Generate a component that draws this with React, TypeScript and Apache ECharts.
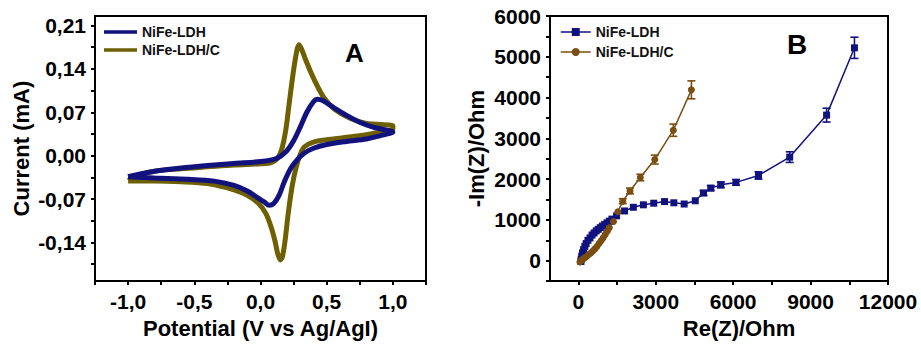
import React, { useEffect, useRef } from "react";
import * as echarts from "echarts";

// ---------- Panel A: cyclic voltammograms (Potential V, Current mA) ----------
const cvLDH: [number, number][] = [
  [-1.0, -0.034], [-0.9, -0.029], [-0.8, -0.025], [-0.6, -0.02], [-0.4, -0.016], [-0.2, -0.0125],
  [0.0, -0.0095], [0.1, -0.006], [0.15, -0.001], [0.2, 0.008], [0.25, 0.024], [0.3, 0.046],
  [0.35, 0.07], [0.4, 0.087], [0.43, 0.091], [0.47, 0.089], [0.55, 0.078], [0.65, 0.065],
  [0.75, 0.054], [0.85, 0.046], [1.0, 0.038],
  [0.9, 0.032], [0.8, 0.027], [0.65, 0.023], [0.5, 0.018], [0.4, 0.012], [0.33, 0.004],
  [0.28, -0.006], [0.23, -0.02], [0.18, -0.042], [0.14, -0.064], [0.1, -0.077], [0.065, -0.08],
  [0.03, -0.075], [-0.02, -0.068], [-0.1, -0.057], [-0.2, -0.048], [-0.35, -0.041],
  [-0.55, -0.038], [-0.8, -0.036], [-1.0, -0.034],
];
const cvLDHC: [number, number][] = [
  [-1.0, -0.04], [-0.9, -0.03], [-0.8, -0.025], [-0.6, -0.021], [-0.4, -0.018], [-0.2, -0.015],
  [0.0, -0.013], [0.08, -0.011], [0.13, -0.004], [0.16, 0.01], [0.19, 0.04], [0.22, 0.09],
  [0.25, 0.138], [0.275, 0.17], [0.29, 0.179], [0.31, 0.172], [0.34, 0.155], [0.4, 0.125],
  [0.48, 0.093], [0.56, 0.075], [0.68, 0.06], [0.8, 0.052], [1.0, 0.048],
  [1.0, 0.043], [0.85, 0.036], [0.7, 0.031], [0.55, 0.027], [0.4, 0.022], [0.33, 0.014],
  [0.3, 0.002], [0.27, -0.018], [0.24, -0.048], [0.21, -0.092], [0.185, -0.138], [0.165, -0.163],
  [0.15, -0.168], [0.13, -0.158], [0.11, -0.138], [0.08, -0.115], [0.04, -0.093], [-0.02, -0.076],
  [-0.1, -0.064], [-0.2, -0.055], [-0.4, -0.045], [-0.6, -0.042], [-0.8, -0.041], [-1.0, -0.041],
];
const cvXTicks = [-1.25, -1.0, -0.75, -0.5, -0.25, 0, 0.25, 0.5, 0.75, 1.0, 1.25];
const cvXLabels = [-1.0, -0.5, 0, 0.5, 1.0];
const cvYTicks = [-0.175, -0.14, -0.105, -0.07, -0.035, 0, 0.035, 0.07, 0.105, 0.14, 0.175, 0.21];
const cvYLabels = [-0.14, -0.07, 0, 0.07, 0.14, 0.21];

// ---------- Panel B: Nyquist plots (Re(Z), -Im(Z), Ohm) ----------
const eisLDH: [number, number][] = [
  [100, -20], [110, 40], [130, 110], [160, 190], [200, 270], [250, 350], [300, 420], [370, 500],
  [450, 560], [530, 630], [610, 680], [690, 730], [770, 770], [850, 810], [930, 850], [1020, 890],
  [1110, 930], [1200, 970], [1300, 1020], [1480, 1100], [1790, 1220], [2130, 1310], [2520, 1370],
  [2920, 1410], [3340, 1450], [3700, 1420], [4100, 1390], [4530, 1470], [4850, 1660], [5130, 1780],
  [5520, 1860], [6110, 1920], [6980, 2090], [8190, 2540], [9620, 3570], [10700, 5220],
];
const eisLDHC: [number, number][] = [
  [60, -30], [100, 0], [150, 30], [200, 50], [260, 80], [330, 110], [400, 150], [480, 190],
  [560, 240], [640, 290], [720, 350], [800, 420], [880, 490], [960, 560], [1040, 640], [1120, 720],
  [1200, 810], [1360, 960], [1530, 1200], [1720, 1460], [2000, 1710], [2400, 2040], [2960, 2480],
  [3680, 3200], [4380, 4190],
];
const errLDH: [number, number, number][] = [
  [10700, 5220, 260], [9620, 3570, 170], [8190, 2540, 130], [6980, 2090, 90], [6110, 1920, 70],
  [5520, 1860, 70], [5130, 1780, 60], [4850, 1660, 60],
];
const errLDHC: [number, number, number][] = [
  [4380, 4190, 220], [3680, 3200, 150], [2960, 2480, 110], [2400, 2040, 80], [2000, 1710, 70],
  [1720, 1460, 60],
];
const eisXTicks = [0, 1500, 3000, 4500, 6000, 7500, 9000, 10500, 12000];
const eisXLabels = [0, 3000, 6000, 9000, 12000];

const NAMES = ["NiFe-LDH", "NiFe-LDH/C"];
const BLUE = "#12127f";
const OLIVE = "#6e5f00";
const BROWN = "#7a4d10";
const FONT = "'Liberation Sans', Arial, Helvetica, sans-serif";

const axisCommon = (gridIndex: number) => ({
  gridIndex,
  type: "value" as const,
  axisLine: { show: true, onZero: false, lineStyle: { color: "#000", width: 2 } },
  axisTick: { show: true, inside: false, length: 4, lineStyle: { color: "#000", width: 2 } },
  splitLine: { show: false },
  nameLocation: "middle" as const,
  nameTextStyle: { fontFamily: FONT, fontSize: 22, fontWeight: "bold" as const, color: "#000" },
});
const labelCommon = {
  fontFamily: FONT,
  fontSize: 21,
  fontWeight: "bold" as const,
  color: "#000",
  showMinLabel: true,
  showMaxLabel: true,
};

const errRender = (color: string) => (params: any, api: any) => {
  const x = api.value(0);
  const y = api.value(1);
  const e = api.value(2);
  const top = api.coord([x, y + e]);
  const bot = api.coord([x, y - e]);
  const style = { stroke: color, lineWidth: 1.6 };
  return {
    type: "group",
    children: [
      { type: "line", shape: { x1: top[0], y1: top[1], x2: bot[0], y2: bot[1] }, style },
      { type: "line", shape: { x1: top[0] - 4, y1: top[1], x2: top[0] + 4, y2: top[1] }, style },
      { type: "line", shape: { x1: bot[0] - 4, y1: bot[1], x2: bot[0] + 4, y2: bot[1] }, style },
    ],
  };
};

export default function App() {
  const ref = useRef<HTMLDivElement>(null);
  useEffect(() => {
    if (!ref.current) return;
    const chart = echarts.init(ref.current, undefined, { renderer: "svg" });
    chart.setOption({
      animation: false,
      backgroundColor: "#fff",
      grid: [
        { left: 95, top: 16, width: 331, height: 268, show: true, borderColor: "#000", borderWidth: 2, containLabel: false },
        { left: 550, top: 16, width: 338, height: 270, show: true, borderColor: "#000", borderWidth: 2, containLabel: false },
      ],
      legend: [
        {
          data: ["A:" + NAMES[0], "A:" + NAMES[1]],
          orient: "vertical",
          left: 99,
          top: 20,
          icon: "rect",
          itemWidth: 33,
          itemHeight: 3.5,
          itemGap: 4,
          formatter: (n: string) => n.split(":")[1],
          textStyle: { fontFamily: FONT, fontSize: 14, fontWeight: "bold", color: "#111", lineHeight: 14 },
          selectedMode: false,
        },
        {
          data: ["B:" + NAMES[0], "B:" + NAMES[1]],
          orient: "vertical",
          left: 555,
          top: 20,
          itemWidth: 30,
          itemHeight: 10,
          itemGap: 6,
          formatter: (n: string) => n.split(":")[1],
          lineStyle: { width: 1.5 },
          textStyle: { fontFamily: FONT, fontSize: 14, fontWeight: "bold", color: "#111" },
          selectedMode: false,
        },
      ],
      xAxis: [
        {
          ...axisCommon(0),
          min: -1.25,
          max: 1.25,
          name: "Potential (V vs Ag/AgI)",
          nameGap: 34,
          axisTick: { show: true, inside: false, length: 4, lineStyle: { color: "#000", width: 2 }, customValues: cvXTicks },
          axisLabel: {
            ...labelCommon,
            margin: 10,
            customValues: cvXLabels,
            formatter: (v: number) => v.toFixed(1).replace(".", ",").replace("-0,0", "0,0"),
          },
        },
        {
          ...axisCommon(1),
          min: -1100,
          max: 12000,
          name: "Re(Z)/Ohm",
          nameGap: 34,
          nameTextStyle: { fontFamily: FONT, fontSize: 22, fontWeight: "bold", color: "#000", padding: [0, 0, 0, 40] },
          axisTick: { show: true, inside: false, length: 4, lineStyle: { color: "#000", width: 2 }, customValues: eisXTicks },
          axisLabel: { ...labelCommon, margin: 10, customValues: eisXLabels, formatter: (v: number) => String(v) },
        },
      ],
      yAxis: [
        {
          ...axisCommon(0),
          min: -0.2022,
          max: 0.2252,
          name: "Current (mA)",
          nameGap: 63,
          axisTick: { show: true, inside: false, length: 4, lineStyle: { color: "#000", width: 2 }, customValues: cvYTicks },
          axisLabel: {
            ...labelCommon,
            margin: 9,
            customValues: cvYLabels,
            formatter: (v: number) => v.toFixed(2).replace(".", ",").replace("-0,00", "0,00"),
          },
        },
        {
          ...axisCommon(1),
          min: -500,
          max: 6000,
          interval: 500,
          name: "-Im(Z)/Ohm",
          nameGap: 63,
          axisLabel: {
            ...labelCommon,
            margin: 9,
            formatter: (v: number) => (v >= 0 && Math.round(v) % 1000 === 0 ? String(Math.round(v)) : ""),
          },
        },
      ],
      graphic: [
        { type: "text", left: 345, top: 40, style: { text: "A", fontFamily: FONT, fontSize: 26, fontWeight: "bold", fill: "#000" } },
        { type: "text", left: 787, top: 30, style: { text: "B", fontFamily: FONT, fontSize: 28, fontWeight: "bold", fill: "#000" } },
      ],
      series: [
        {
          name: "A:" + NAMES[1],
          type: "line",
          xAxisIndex: 0,
          yAxisIndex: 0,
          data: cvLDHC,
          showSymbol: false,
          symbol: "none",
          smooth: 0.3,
          color: OLIVE,
          lineStyle: { color: OLIVE, width: 5 },
        },
        {
          name: "A:" + NAMES[0],
          type: "line",
          xAxisIndex: 0,
          yAxisIndex: 0,
          data: cvLDH,
          showSymbol: false,
          symbol: "none",
          smooth: 0.3,
          color: BLUE,
          lineStyle: { color: BLUE, width: 5 },
        },
        {
          name: "B:" + NAMES[0],
          type: "line",
          xAxisIndex: 1,
          yAxisIndex: 1,
          data: eisLDH,
          symbol: "rect",
          symbolSize: 7,
          color: BLUE,
          itemStyle: { color: BLUE },
          lineStyle: { color: BLUE, width: 1.5 },
        },
        {
          name: "B:" + NAMES[1],
          type: "line",
          xAxisIndex: 1,
          yAxisIndex: 1,
          data: eisLDHC,
          symbol: "circle",
          symbolSize: 7,
          color: BROWN,
          itemStyle: { color: BROWN },
          lineStyle: { color: BROWN, width: 1.5 },
        },
        {
          name: "errLDH",
          type: "custom",
          xAxisIndex: 1,
          yAxisIndex: 1,
          data: errLDH,
          renderItem: errRender(BLUE),
          z: 3,
        },
        {
          name: "errLDHC",
          type: "custom",
          xAxisIndex: 1,
          yAxisIndex: 1,
          data: errLDHC,
          renderItem: errRender(BROWN),
          z: 3,
        },
      ],
    });
    return () => chart.dispose();
  }, []);
  return (
    <div
      ref={ref}
      style={{ position: "absolute", left: 0, top: 0, width: 921, height: 344, background: "#fff" }}
    />
  );
}
